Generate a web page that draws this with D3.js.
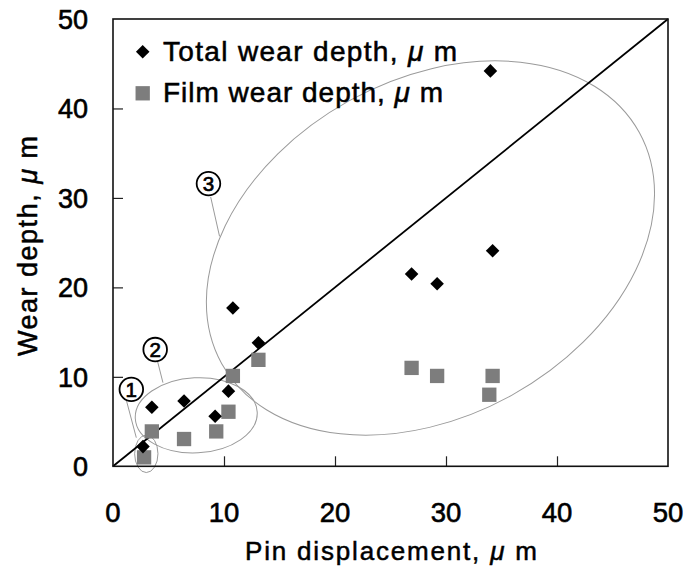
<!DOCTYPE html>
<html>
<head>
<meta charset="utf-8">
<script src="https://cdn.jsdelivr.net/npm/d3@7"></script>
<style>
  html, body { margin: 0; padding: 0; background: #fff; }
  svg { display: block; }
  text { font-family: "Liberation Sans", Arial, sans-serif; fill: #000; }
</style>
</head>
<body>
<svg id="chart" width="684" height="569"></svg>
<script>
// Pin displacement (µm) and the two measured wear depths (µm)
const pinTotal   = [2.7, 3.5, 6.4, 9.2, 10.4, 10.8, 13.1, 26.9, 29.2, 34.0, 34.2];
const totalDepth = [2.2, 6.6, 7.3, 5.6, 8.4, 17.7, 13.8, 21.5, 20.4, 44.2, 24.1];
const pinFilm    = [2.8, 3.5, 6.4, 9.3, 10.4, 10.8, 13.1, 26.9, 29.2, 34.2, 33.9];
const filmDepth  = [1.0, 3.9, 3.05, 3.9, 6.1, 10.1, 11.9, 11.0, 10.1, 10.1, 8.0];

const xTicks = [0, 10, 20, 30, 40, 50];
const yTicks = [0, 10, 20, 30, 40, 50];

const seriesNames = ["Total wear depth, ", "Film wear depth, "];

// Regime groups: ellipse centre / semi-axes in data units, tilt in degrees
const groupLabels = ["1", "2", "3"];
const groupCx = [3.0, 7.5, 28.6];
const groupCy = [1.4, 5.7, 24.4];
const groupRx = [1.05, 5.5, 21.5];
const groupRy = [2.1, 4.2, 18.8];
const groupTilt = [0, -3, -29];
const labelX = [1.65, 3.8, 8.6];
const labelY = [8.6, 13.05, 31.6];
const leaderFrom = [[1.2, 7.4], [4.0, 11.8], [8.8, 30.1]];
const leaderTo   = [[2.1, 3.2], [4.5, 9.35], [9.6, 25.7]];

const svg = d3.select("#chart");
const plotL = 113, plotR = 668, plotT = 19, plotB = 466.3;

const x = d3.scaleLinear().domain([0, 50]).range([plotL, plotR]);
const y = d3.scaleLinear().domain([0, 50]).range([plotB, plotT]);

// inward ticks on bottom and left
const tickLen = 10;
svg.append("g")
  .attr("transform", `translate(0,${plotB})`)
  .call(d3.axisBottom(x).tickValues(xTicks.slice(1, -1)).tickSize(-tickLen).tickFormat(""))
  .call(g => g.select(".domain").remove())
  .call(g => g.selectAll("line").attr("stroke", "#222").attr("stroke-width", 1.2));
svg.append("g")
  .attr("transform", `translate(${plotL},0)`)
  .call(d3.axisLeft(y).tickValues(yTicks.slice(1, -1)).tickSize(-tickLen).tickFormat(""))
  .call(g => g.select(".domain").remove())
  .call(g => g.selectAll("line").attr("stroke", "#222").attr("stroke-width", 1.2));

// tick labels
svg.append("g").selectAll("text").data(xTicks).join("text")
  .attr("x", d => x(d)).attr("y", 521.5)
  .attr("text-anchor", "middle")
  .attr("font-size", 27.5)
  .attr("stroke", "#000").attr("stroke-width", 0.6)
  .text(d => d);
svg.append("g").selectAll("text").data(yTicks).join("text")
  .attr("x", 88).attr("y", d => y(d) + 10)
  .attr("text-anchor", "end")
  .attr("font-size", 27)
  .attr("stroke", "#000").attr("stroke-width", 0.6)
  .text(d => d);

// group ellipses with circled labels
const ann = svg.append("g");
groupLabels.forEach((lab, i) => {
  const cx = x(groupCx[i]), cy = y(groupCy[i]);
  ann.append("ellipse")
    .attr("cx", 0).attr("cy", 0)
    .attr("rx", x(groupRx[i]) - x(0))
    .attr("ry", y(0) - y(groupRy[i]))
    .attr("transform", `translate(${cx},${cy}) rotate(${groupTilt[i]})`)
    .attr("fill", "none").attr("stroke", "#9a9a9a").attr("stroke-width", 1);
  ann.append("line")
    .attr("x1", x(leaderFrom[i][0])).attr("y1", y(leaderFrom[i][1]))
    .attr("x2", x(leaderTo[i][0])).attr("y2", y(leaderTo[i][1]))
    .attr("stroke", "#9a9a9a").attr("stroke-width", 1);
  ann.append("circle")
    .attr("cx", x(labelX[i])).attr("cy", y(labelY[i])).attr("r", 11.8)
    .attr("fill", "#fff").attr("stroke", "#000").attr("stroke-width", 1.8);
  ann.append("text")
    .attr("x", x(labelX[i])).attr("y", y(labelY[i]) + 7.3)
    .attr("text-anchor", "middle").attr("font-size", 20.5)
    .attr("stroke", "#000").attr("stroke-width", 0.7)
    .text(lab);
});

// y = x reference line
svg.append("line")
  .attr("x1", x(0)).attr("y1", y(0)).attr("x2", x(50)).attr("y2", y(50))
  .attr("stroke", "#000").attr("stroke-width", 1.8);

// film wear depth (grey squares)
const sq = d3.symbol().type(d3.symbolSquare).size(205);
svg.append("g").selectAll("path").data(d3.range(pinFilm.length)).join("path")
  .attr("d", sq)
  .attr("transform", i => `translate(${x(pinFilm[i])},${y(filmDepth[i])})`)
  .attr("fill", "#7d7d7d");

// total wear depth (black diamonds)
const dm = d3.symbol().type(d3.symbolSquare).size(92);
svg.append("g").selectAll("path").data(d3.range(pinTotal.length)).join("path")
  .attr("d", dm)
  .attr("transform", i => `translate(${x(pinTotal[i])},${y(totalDepth[i])}) rotate(45)`)
  .attr("fill", "#000");

// frame
svg.append("rect")
  .attr("x", plotL).attr("y", plotT).attr("width", plotR - plotL).attr("height", plotB - plotT)
  .attr("fill", "none").attr("stroke", "#111").attr("stroke-width", 1.6);

// legend
const lg = svg.append("g");
const legY = [51.7, 93.3];
lg.append("path").attr("d", dm).attr("transform", `translate(142.7,${legY[0]}) rotate(45)`).attr("fill", "#000");
lg.append("path").attr("d", sq).attr("transform", `translate(142.7,${legY[1]})`).attr("fill", "#7d7d7d");
const legLen = [294, 280];
seriesNames.forEach((name, i) => {
  const t = lg.append("text")
    .attr("x", 163).attr("y", legY[i] + 9)
    .attr("font-size", 28)
    .attr("stroke", "#000").attr("stroke-width", 0.55)
    .attr("textLength", legLen[i]).attr("lengthAdjust", "spacing");
  t.append("tspan").text(name);
  t.append("tspan").attr("font-style", "italic").text("μ");
  t.append("tspan").text(" m");
});

// axis titles
const xt = svg.append("text")
  .attr("x", 391 - 146).attr("y", 560)
  .attr("font-size", 26)
  .attr("stroke", "#000").attr("stroke-width", 0.5)
  .attr("textLength", 292).attr("lengthAdjust", "spacing");
xt.append("tspan").text("Pin displacement, ");
xt.append("tspan").attr("font-style", "italic").text("μ");
xt.append("tspan").text(" m");

const yt = svg.append("text")
  .attr("transform", "translate(36.5,356) rotate(-90)")
  .attr("x", 0).attr("y", 0)
  .attr("font-size", 27)
  .attr("stroke", "#000").attr("stroke-width", 0.5)
  .attr("textLength", 220).attr("lengthAdjust", "spacing");
yt.append("tspan").text("Wear depth, ");
yt.append("tspan").attr("font-style", "italic").text("μ");
yt.append("tspan").text(" m");
</script>
</body>
</html>
